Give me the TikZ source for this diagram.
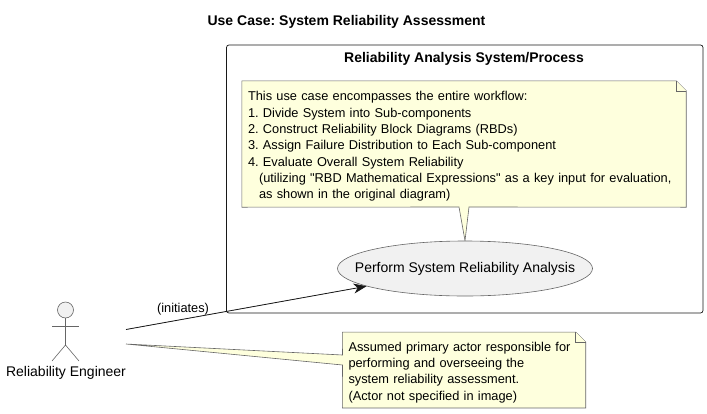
\documentclass[tikz,border=0pt]{standalone}
\usepackage{fontspec}
\setmainfont{Liberation Sans}[Ligatures=TeXOff]
\usepackage{tikz}
\usetikzlibrary{arrows.meta,shapes.geometric,backgrounds}
\definecolor{notecol}{HTML}{FEFFDD}
\definecolor{linecol}{HTML}{181818}
\definecolor{thincol}{HTML}{666666}
\definecolor{usecol}{HTML}{F1F1F1}
\frenchspacing

\begin{document}
\begin{tikzpicture}[x=1pt, y=-1pt, >={Stealth[length=13pt,width=10pt,inset=4pt]}, font=\fontsize{14}{16.3}\selectfont]
	\tikzstyle{format} = [draw=thincol, line width=0.6pt, fill=usecol]
	\tikzstyle{stick} = [draw=thincol, line width=0.6pt]
	\tikzstyle{notebox} = [draw=none, inner xsep=6pt, inner ysep=0pt, align=left, font=\fontsize{12.8}{16.3}\selectfont]
	\tikzstyle{noteline} = [draw=thincol, line width=0.6pt, fill=notecol]
	\tikzstyle{heading} = [font=\fontsize{14}{16.3}\selectfont\bfseries, inner sep=0pt]

	\useasboundingbox (0,0) rectangle (707,413);

	\node[heading] (title) at (346.5,21.5) {Use Case: System Reliability Assessment};
	\node[draw=linecol, line width=0.7pt, rounded corners=2.5pt, minimum width=476.5pt, minimum height=268pt, inner sep=0pt] (system) at (464.75,179) {};
	\node[heading] (systitle) at (464,58.5) {Reliability Analysis System/Process};

	\node[notebox, text width=432pt, minimum height=126pt] (note1) at (464,144) {};
	\node[notebox, text width=432pt] (note1text) at (464,146.5) {This use case encompasses the entire workflow:\\
		1. Divide System into Sub-components\\
		2. Construct Reliability Block Diagrams (RBDs)\\
		3. Assign Failure Distribution to Each Sub-component\\
		4. Evaluate Overall System Reliability\\
		\hspace*{11pt}(utilizing "RBD Mathematical Expressions" as a key input for evaluation,\\
		\hspace*{11pt}as shown in the original diagram)};
	\node[notebox, text width=231pt, minimum height=75.5pt] (note2) at (464,370) {};
	\node[notebox, text width=231pt] (note2text) at (464,372.5) {Assumed primary actor responsible for\\
		performing and overseeing the\\
		system reliability assessment.\\
		(Actor not specified in image)};

	\node[ellipse, format, minimum width=255pt, minimum height=55pt, inner sep=0pt, label=center:{Perform System Reliability Analysis}] (perform) at (465,268.5) {};

	% actor
	\node[circle, format, minimum size=16pt, inner sep=0pt] (head) at (65.5,310) {};
	\coordinate (hip) at (65.5,345);
	\coordinate (armL) at (52,326);
	\coordinate (armR) at (79,326);
	\coordinate (legL) at (52,361);
	\coordinate (legR) at (79,361);
	\node[inner sep=0pt] (engineer) at (66,372.5) {Reliability Engineer};
	\draw[stick] (head) -- (hip);
	\draw[stick] (armL) -- (armR);
	\draw[stick] (legL) -- (hip) -- (legR);

	\coordinate (actorout) at (126,329.5);
	\coordinate (actornote) at (126,344);
	\draw[->, draw=linecol, line width=0.8pt, fill=linecol] (actorout) -- (perform);
	\node[inner sep=0pt, font=\fontsize{12.8}{16.3}\selectfont] (initiates) at (183,309.5) {(initiates)};

	\begin{pgfonlayer}{background}
		% note outlines with their tails
		\coordinate (tailA) at (459,207);
		\coordinate (tailB) at (469,207);
		\coordinate (tailC) at (342.5,355);
		\coordinate (tailD) at (342.5,365);
		\draw[noteline] (note1.north west) -- ([xshift=-10pt]note1.north east) -- ([yshift=-10pt]note1.north east) -- (note1.south east) -- (tailB) -- (perform.north) -- (tailA) -- (note1.south west) -- cycle;
		\draw[noteline] ([xshift=-10pt]note1.north east) |- ([yshift=-10pt]note1.north east);
		\draw[noteline] (note2.north west) -- ([xshift=-10pt]note2.north east) -- ([yshift=-10pt]note2.north east) -- (note2.south east) -- (note2.south west) -- (tailD) -- (actornote) -- (tailC) -- cycle;
		\draw[noteline] ([xshift=-10pt]note2.north east) |- ([yshift=-10pt]note2.north east);
	\end{pgfonlayer}
\end{tikzpicture}
\end{document}
